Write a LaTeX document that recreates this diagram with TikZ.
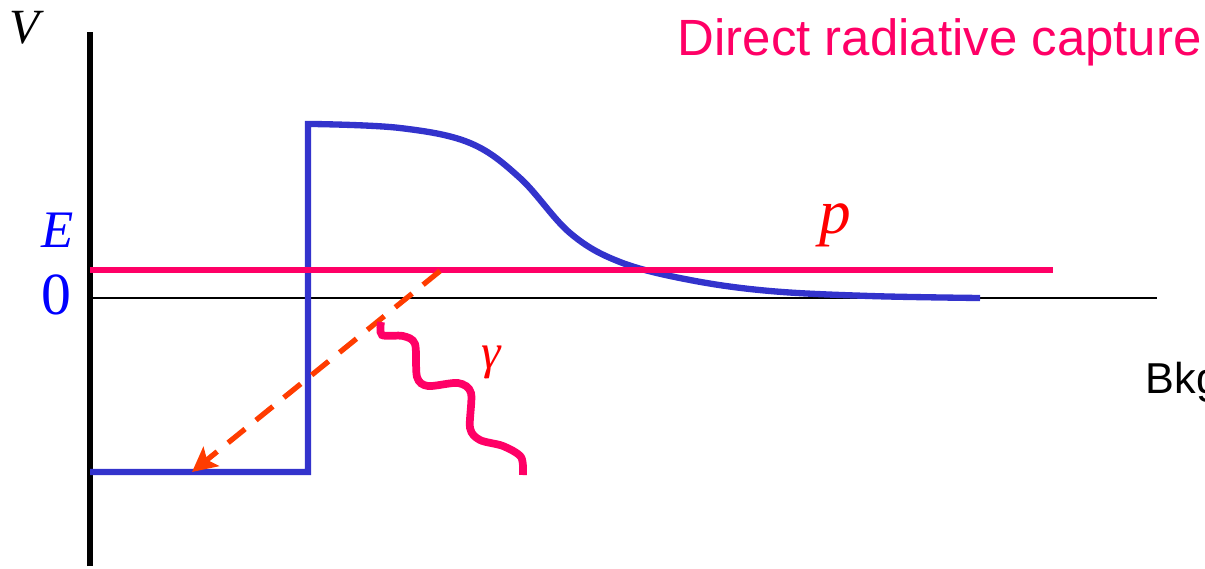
\documentclass[tikz,border=0pt]{standalone}
\usepackage{fontspec}
\setmainfont{Liberation Serif}
\setsansfont{Liberation Sans}
\usetikzlibrary{arrows.meta}
\definecolor{wellblue}{RGB}{51,51,204}
\definecolor{beampink}{RGB}{255,0,102}
\definecolor{decayorange}{RGB}{255,60,0}
\definecolor{labelblue}{RGB}{0,0,255}
\definecolor{labelred}{RGB}{255,0,0}
\tikzset{
  vaxis/.style={draw=black,line width=1.9pt},
  zeroline/.style={draw=black,line width=0.5pt},
  potential/.style={draw=wellblue,line width=1.8pt},
  beam/.style={draw=beampink,line width=1.7pt},
  photon/.style={draw=beampink,line width=2.2pt},
  decay/.style={draw=decayorange,line width=1.5pt,dash pattern=on 6.2pt off 4pt,-{Stealth[length=7pt,width=7pt,inset=1.5pt]}},
  symlabel/.style={inner sep=0pt,font=\fontsize{15}{18}\selectfont},
  textlabel/.style={inner sep=0pt,font=\sffamily\fontsize{14.5}{17}\selectfont}
}

\begin{document}
\begin{tikzpicture}
  \useasboundingbox (0,0) rectangle (12.05,5.68);
  % axes
  \coordinate (axtop) at (0.90,5.36);
  \coordinate (axbot) at (0.90,0.02);
  \coordinate (zleft) at (0.90,2.70);
  \coordinate (zright) at (11.57,2.70);
  \draw[vaxis] (axbot) -- (axtop);
  \draw[zeroline] (zleft) -- (zright);

  % potential well and barrier
  \coordinate (wellleft) at (0.90,0.96);
  \coordinate (wellright) at (3.08,0.96);
  \coordinate (barriertop) at (3.08,4.44);
  \draw[potential] (wellleft) -- (wellright) -- (barriertop)
    -- plot[smooth,tension=0.6] coordinates {(3.13,4.44) (4.00,4.40) (4.70,4.25) (5.20,3.90)
      (5.70,3.35) (6.20,3.06) (6.90,2.88) (7.70,2.77) (8.70,2.72) (9.80,2.70)};

  % incoming proton energy
  \coordinate (beamleft) at (0.90,2.98);
  \coordinate (beamright) at (10.53,2.98);
  \draw[beam] (beamleft) -- (beamright);

  % capture transition
  \coordinate (capstart) at (4.40,2.97);
  \coordinate (capend) at (1.92,0.96);
  \draw[decay] (capstart) -- (capend);

  % emitted gamma
  \draw[photon] plot[smooth,tension=0.5] coordinates {(3.81,2.46) (3.82,2.33) (4.03,2.32)
    (4.15,2.24) (4.17,1.91) (4.28,1.82) (4.58,1.85) (4.71,1.75) (4.70,1.40) (4.80,1.28)
    (5.03,1.22) (5.21,1.11) (5.23,0.93)};

  \node[symlabel,font=\fontsize{14}{17}\selectfont] (vlabel) at (0.27,5.40) {\textit{V}};
  \node[symlabel,text=labelblue] (elabel) at (0.58,3.38) {\textit{E}};
  \node[symlabel,text=labelblue,font=\fontsize{17}{20}\selectfont] (zerolabel) at (0.56,2.73) {0};
  \node[symlabel,text=labelred,font=\fontsize{18}{21}\selectfont] (plabel) at (8.35,3.43) {\textit{p}};
  \node[symlabel,text=labelred,font=\fontsize{14}{17}\selectfont] (glabel) at (4.92,2.06) {\textit{γ}};
  \node[textlabel,text=beampink,anchor=base west] (title) at (6.77,5.13) {Direct radiative capture};
  \node[textlabel,font=\sffamily\fontsize{12.3}{15}\selectfont,anchor=base west] (bkg) at (11.45,1.75) {Bkg};
\end{tikzpicture}
\end{document}
